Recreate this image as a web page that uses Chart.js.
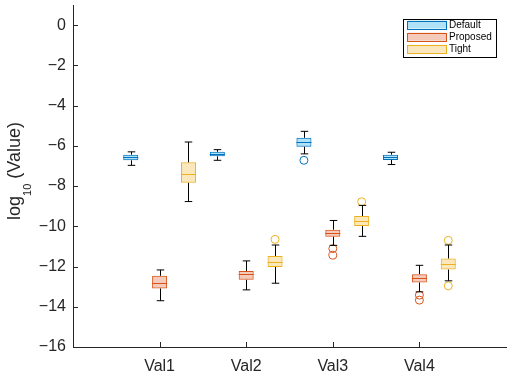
<!DOCTYPE html>
<html>
<head>
<meta charset="utf-8">
<script src="https://cdn.jsdelivr.net/npm/chart.js@4.4.0/dist/chart.umd.min.js"></script>
<style>
  html, body { margin: 0; padding: 0; background: #fff; }
</style>
</head>
<body>
<canvas id="chart" width="514" height="382"></canvas>
<script>
const categories = ["Val1", "Val2", "Val3", "Val4"];
const seriesNames = ["Default", "Proposed", "Tight"];

// each entry: [whisker low, q1, median, q3, whisker high]
const defaultStats = [
  [-6.97, -6.72, -6.55, -6.44, -6.30],
  [-6.72, -6.52, -6.42, -6.30, -6.19],
  [-6.40, -6.05, -5.82, -5.60, -5.28],
  [-6.93, -6.70, -6.57, -6.44, -6.32]
];
const proposedStats = [
  [-13.70, -13.09, -12.83, -12.46, -12.17],
  [-13.16, -12.66, -12.38, -12.22, -11.72],
  [-10.95, -10.52, -10.34, -10.17, -9.71],
  [-13.26, -12.79, -12.58, -12.38, -11.94]
];
const tightStats = [
  [-8.77, -7.84, -7.41, -6.82, -5.81],
  [-12.83, -12.02, -11.76, -11.48, -10.93],
  [-10.50, -9.99, -9.74, -9.49, -8.96],
  [-12.71, -12.15, -11.87, -11.60, -10.93]
];

const defaultOutliers = [[], [], [-6.72], []];
const proposedOutliers = [[], [], [-11.11, -11.44], [-13.42, -13.67]];
const tightOutliers = [[], [-10.65], [-8.78], [-10.70, -12.96]];

const yTicks = [-16, -14, -12, -10, -8, -6, -4, -2, 0];

const edgeColors = ["#0072BD", "#D95319", "#EDB120"];
const fillColors = ["rgba(77,190,238,0.45)", "rgba(217,83,25,0.3)", "rgba(237,177,32,0.3)"];
const axisColor = "#262626";

const allStats = [defaultStats, proposedStats, tightStats];
const allOutliers = [defaultOutliers, proposedOutliers, tightOutliers];

const boxSets = allStats.map((stats, k) => ({
  type: "bar",
  label: seriesNames[k],
  data: stats.map((s, i) => ({ x: i + 1, y: [s[1], s[3]] })),
  backgroundColor: fillColors[k],
  borderColor: edgeColors[k],
  borderWidth: 1,
  borderSkipped: false,
  categoryPercentage: 1,
  barPercentage: 0.52
}));

const outlierSets = allOutliers.map((outs, k) => ({
  type: "scatter",
  label: seriesNames[k] + " outliers",
  data: outs.flatMap((list, i) => list.map(v => ({ x: i + 1 + (k - 1) / 3, y: v }))),
  pointStyle: "circle",
  pointRadius: 4,
  pointBorderWidth: 1,
  pointBorderColor: edgeColors[k],
  pointBackgroundColor: "rgba(0,0,0,0)",
  showLine: false
}));

const minus = v => (v < 0 ? "\u2212" + Math.abs(v) : String(v));

// whiskers, caps, medians and inward tick marks
const boxExtras = {
  id: "boxExtras",
  afterDatasetsDraw(chart) {
    const ctx = chart.ctx;
    const yScale = chart.scales.y;
    ctx.save();
    ctx.lineWidth = 1;
    allStats.forEach((stats, k) => {
      const meta = chart.getDatasetMeta(k);
      meta.data.forEach((bar, i) => {
        const s = stats[i];
        const x = Math.round(bar.x) + 0.5;
        const half = bar.width / 2;
        const capHalf = half / 2;
        const lo = yScale.getPixelForValue(s[0]);
        const q1 = yScale.getPixelForValue(s[1]);
        const med = yScale.getPixelForValue(s[2]);
        const q3 = yScale.getPixelForValue(s[3]);
        const hi = yScale.getPixelForValue(s[4]);
        ctx.strokeStyle = "#000";
        ctx.beginPath();
        ctx.moveTo(x, q1);
        ctx.lineTo(x, lo);
        ctx.moveTo(x - capHalf, lo);
        ctx.lineTo(x + capHalf, lo);
        ctx.moveTo(x, q3);
        ctx.lineTo(x, hi);
        ctx.moveTo(x - capHalf, hi);
        ctx.lineTo(x + capHalf, hi);
        ctx.stroke();
        ctx.strokeStyle = edgeColors[k];
        ctx.beginPath();
        ctx.moveTo(bar.x - half, Math.round(med) + 0.5);
        ctx.lineTo(bar.x + half, Math.round(med) + 0.5);
        ctx.stroke();
      });
    });

    const area = chart.chartArea;
    const xScale = chart.scales.x;
    ctx.strokeStyle = axisColor;
    ctx.beginPath();
    yTicks.forEach(v => {
      const py = Math.round(yScale.getPixelForValue(v)) + 0.5;
      ctx.moveTo(area.left, py);
      ctx.lineTo(area.left + 5, py);
    });
    categories.forEach((c, i) => {
      const px = Math.round(xScale.getPixelForValue(i + 1)) + 0.5;
      ctx.moveTo(px, area.bottom);
      ctx.lineTo(px, area.bottom - 5);
    });
    ctx.stroke();
    ctx.restore();
  }
};

// y title with subscript
const yTitle = {
  id: "yTitle",
  afterDraw(chart) {
    const ctx = chart.ctx;
    ctx.save();
    ctx.fillStyle = axisColor;
    ctx.textBaseline = "alphabetic";
    ctx.textAlign = "left";
    const big = "18px 'Liberation Sans', Arial, sans-serif";
    const small = "11px 'Liberation Sans', Arial, sans-serif";
    ctx.font = big;
    const w1 = ctx.measureText("log").width;
    const w3 = ctx.measureText(" (Value)").width;
    ctx.font = small;
    const w2 = ctx.measureText("10").width;
    const total = w1 + w2 + w3;
    ctx.translate(20, 171);
    ctx.rotate(-Math.PI / 2);
    let x = -total / 2;
    ctx.font = big;
    ctx.fillText("log", x, 0);
    x += w1;
    ctx.font = small;
    ctx.fillText("10", x, 11);
    x += w2;
    ctx.font = big;
    ctx.fillText(" (Value)", x, 0);
    ctx.restore();
  }
};

// boxed legend in the top right corner
const boxLegend = {
  id: "boxLegend",
  afterDraw(chart) {
    const ctx = chart.ctx;
    const left = 403.5, top = 19.5, w = 93, h = 38;
    ctx.save();
    ctx.fillStyle = "#fff";
    ctx.fillRect(left, top, w, h);
    ctx.strokeStyle = "#000";
    ctx.lineWidth = 1;
    ctx.strokeRect(left, top, w, h);
    ctx.font = "10px 'Liberation Sans', Arial, sans-serif";
    ctx.textBaseline = "middle";
    ctx.textAlign = "left";
    seriesNames.forEach((name, k) => {
      const cy = 24.5 + k * 12.2;
      ctx.fillStyle = "#fff";
      ctx.fillRect(407.5, cy - 4, 39, 8);
      ctx.fillStyle = fillColors[k];
      ctx.fillRect(407.5, cy - 4, 39, 8);
      ctx.strokeStyle = edgeColors[k];
      ctx.strokeRect(407.5, Math.round(cy - 4) + 0.5, 39, 8);
      ctx.fillStyle = "#000";
      ctx.fillText(name, 449, cy + 0.5);
    });
    ctx.restore();
  }
};

Chart.defaults.font.family = "'Liberation Sans', Arial, sans-serif";
Chart.defaults.font.size = 16;
Chart.defaults.color = axisColor;

new Chart(document.getElementById("chart").getContext("2d"), {
  type: "bar",
  data: { datasets: [...boxSets, ...outlierSets] },
  options: {
    responsive: false,
    animation: false,
    events: [],
    layout: { padding: { top: 5, right: 8, left: 0, bottom: 0 } },
    plugins: {
      legend: { display: false },
      tooltip: { enabled: false }
    },
    scales: {
      x: {
        type: "linear",
        min: 0,
        max: 5,
        offset: false,
        grid: { display: false, drawTicks: false },
        border: { display: true, color: axisColor, width: 1 },
        afterBuildTicks: scale => {
          scale.ticks = categories.map((c, i) => ({ value: i + 1 }));
        },
        afterFit: scale => {
          scale.height = 35;
          scale.paddingLeft = 0;
          scale.paddingRight = 0;
        },
        ticks: {
          padding: 10,
          maxRotation: 0,
          callback: v => categories[v - 1] || ""
        }
      },
      y: {
        type: "linear",
        min: -16,
        max: 1,
        grid: { display: false, drawTicks: false },
        border: { display: true, color: axisColor, width: 1 },
        afterBuildTicks: scale => {
          scale.ticks = yTicks.map(v => ({ value: v }));
        },
        afterFit: scale => {
          scale.width = 73;
          scale.paddingTop = 0;
          scale.paddingBottom = 0;
        },
        ticks: {
          padding: 7,
          callback: v => minus(v)
        }
      }
    }
  },
  plugins: [boxExtras, yTitle, boxLegend]
});
</script>
</body>
</html>
